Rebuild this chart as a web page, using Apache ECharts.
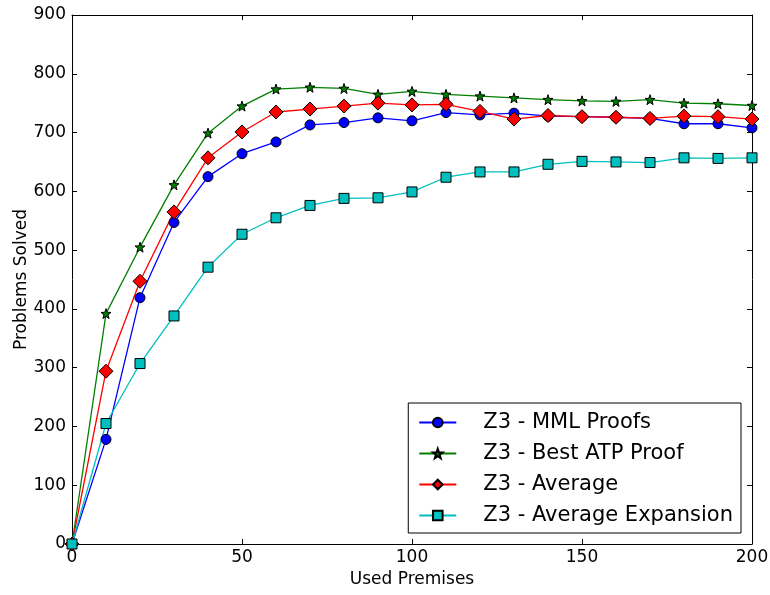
<!DOCTYPE html>
<html>
<head>
<meta charset="utf-8">
<script src="https://cdn.jsdelivr.net/npm/echarts@6/dist/echarts.min.js"></script>
<style>
  html, body { margin: 0; padding: 0; background: #fff; }
  #chart { width: 770px; height: 595px; }
</style>
</head>
<body>
<div id="chart"></div>
<script>
const premises = [0, 10, 20, 30, 40, 50, 60, 70, 80, 90, 100, 110, 120, 130, 140, 150, 160, 170, 180, 190, 200]
const mmlProofs = [0, 178, 419, 547, 625, 664, 684, 713, 717, 725, 720, 734, 730, 733, 728, 727, 726, 724, 715, 715, 708]
const bestAtp = [0, 392, 505, 611, 699, 745, 774, 777, 775, 765, 770, 765, 762, 759, 756, 754, 753, 756, 750, 749, 746]
const average = [0, 294, 447, 565, 657, 701, 735, 740, 745, 750, 747, 748, 736, 723, 729, 727, 726, 724, 728, 727, 723]
const avgExpansion = [0, 205, 307, 388, 471, 527, 555, 576, 588, 589, 599, 624, 633, 633, 646, 651, 650, 649, 657, 656, 657]

const font = 'DejaVu Sans'
const chart = echarts.init(document.getElementById('chart'))

const pairs = vals => premises.map((x, i) => [x, vals[i]])

const mkSeries = (name, vals, color, symbol, size) => ({
  name,
  type: 'line',
  data: pairs(vals),
  symbol,
  symbolSize: size,
  showAllSymbol: true,
  lineStyle: { color, width: 1.3 },
  itemStyle: { color, borderColor: '#000', borderWidth: 1 },
  emphasis: { disabled: true },
  animation: false
})

const axisBase = {
  axisLine: { onZero: false, lineStyle: { color: '#000', width: 1 } },
  axisTick: { inside: true, length: 5, lineStyle: { color: '#000' } },
  splitLine: { show: false }
}

chart.setOption({
  animation: false,
  grid: { left: 72, right: 18, top: 15, bottom: 51, outerBoundsMode: 'none' },
  xAxis: [
    {
      ...axisBase,
      type: 'value', min: 0, max: 200, interval: 50,
      name: 'Used Premises', nameLocation: 'middle', nameGap: 27, nameMoveOverlap: false,
      nameTextStyle: { fontFamily: font, fontSize: 17, color: '#000' },
      axisLabel: { fontFamily: font, fontSize: 17, color: '#000', margin: 5 }
    },
    {
      ...axisBase,
      type: 'value', position: 'top', min: 0, max: 200, interval: 50,
      axisLabel: { show: false }
    }
  ],
  yAxis: [
    {
      ...axisBase,
      type: 'value', min: 0, max: 900, interval: 100,
      name: 'Problems Solved', nameLocation: 'middle', nameGap: 42, nameMoveOverlap: false,
      nameTextStyle: { fontFamily: font, fontSize: 17, color: '#000' },
      axisLabel: { fontFamily: font, fontSize: 17, color: '#000', margin: 6 }
    },
    {
      ...axisBase,
      type: 'value', position: 'right', min: 0, max: 900, interval: 100,
      axisLabel: { show: false }
    }
  ],
  legend: {
    orient: 'vertical',
    right: 29, bottom: 62,
    backgroundColor: '#fff',
    borderColor: '#000', borderWidth: 1, borderRadius: 0,
    padding: [9, 8, 7, 10],
    itemWidth: 37, itemHeight: 12, itemGap: 10,
    textStyle: { fontFamily: font, fontSize: 21, color: '#000', padding: [0, 0, 0, 22] },
    data: ['Z3 - MML Proofs', 'Z3 - Best ATP Proof', 'Z3 - Average', 'Z3 - Average Expansion']
  },
  series: [
    mkSeries('Z3 - MML Proofs', mmlProofs, '#0000ff', 'circle', 10),
    mkSeries('Z3 - Best ATP Proof', bestAtp, '#007f00', 'path://M0,-10 L2.35,-3.24 L9.51,-3.09 L3.8,1.24 L5.88,8.09 L0,4 L-5.88,8.09 L-3.8,1.24 L-9.51,-3.09 L-2.35,-3.24 Z', 10),
    mkSeries('Z3 - Average', average, '#ff0000', 'diamond', 14),
    mkSeries('Z3 - Average Expansion', avgExpansion, '#00bfbf', 'rect', 10)
  ]
})
</script>
</body>
</html>
